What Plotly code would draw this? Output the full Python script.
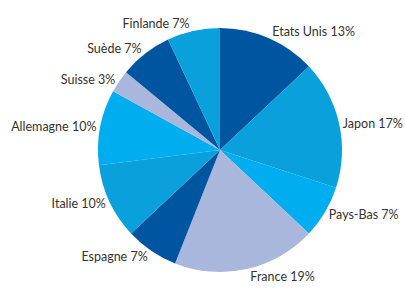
import plotly.graph_objects as go

labels = ["Etats Unis", "Japon", "Pays-Bas", "France", "Espagne", "Italie",
          "Allemagne", "Suisse", "Suède", "Finlande"]
values = [13, 17, 7, 19, 7, 10, 10, 3, 7, 7]
colors = ["#0055a0", "#0aa0dc", "#00aeef", "#a9b7dc", "#0055a0", "#0aa0dc",
          "#00aeef", "#a9b7dc", "#0055a0", "#0aa0dc"]

W, H = 405, 289
cx, cy, r = 220, 150, 122

fig = go.Figure(go.Pie(
    labels=labels, values=values, sort=False, direction="clockwise", rotation=0,
    marker=dict(colors=colors, line=dict(width=0)),
    texttemplate="%{label} %{value}%", textposition="outside",
    textfont=dict(family="Lato, sans-serif", size=12.5, color="#333333"),
    showlegend=False, automargin=False,
    domain=dict(x=[(cx - r) / W, (cx + r) / W], y=[1 - (cy + r) / H, 1 - (cy - r) / H]),
    hoverinfo="label+value",
))
fig.update_layout(width=W, height=H, margin=dict(l=0, r=0, t=0, b=0),
                  paper_bgcolor="white", plot_bgcolor="white")
fig.write_html("out.html", config={"displayModeBar": False},
               post_script="document.body.style.margin='0';")
